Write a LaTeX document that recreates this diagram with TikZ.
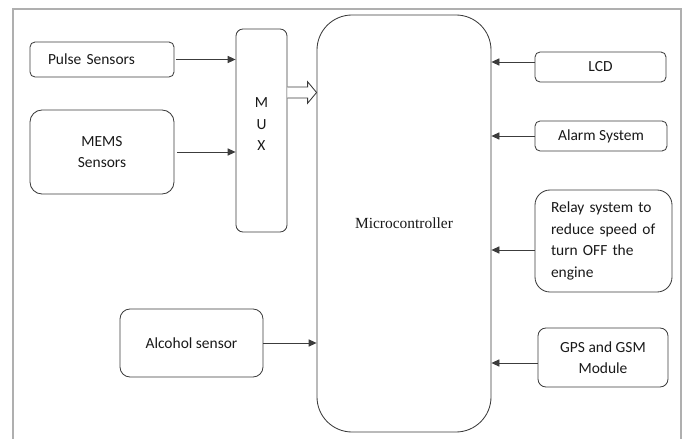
\documentclass[tikz,border=0pt]{standalone}
\usepackage{fontspec}
\setmainfont{Carlito}
\newfontfamily\mcufont{Liberation Serif}
\usetikzlibrary{arrows.meta,positioning,calc}
\definecolor{boxline}{RGB}{60,60,60}
\definecolor{framegray}{RGB}{175,175,175}
\definecolor{txtblack}{RGB}{25,25,25}

\begin{document}
\begin{tikzpicture}[
  every node/.style={font=\fontsize{11}{15.3}\selectfont, text=txtblack},
  blk/.style={draw=boxline, line width=0.6pt, rounded corners=#1,
              align=center, inner sep=2pt},
  blk/.default=3pt,
  arr/.style={-{Triangle[length=0.2cm, width=0.18cm]}, boxline, line width=0.6pt},
  bus/.style={draw=boxline, line width=0.6pt, fill=white},
]
\useasboundingbox (0,0) rectangle (17.15,-10.975);

% Outer frame
\draw[framegray, line width=1pt] (0.325,-10.975) |- (17.025,-0.225) -- (17.025,-10.975);

% Sensors and multiplexer
\node[blk=0.125cm, minimum width=3.6cm, minimum height=0.875cm, text width=2.7cm,
      align=left] (pulse) at (2.55,-1.4875) {Pulse Sensors};
\node[blk=0.3cm, minimum width=3.6cm, minimum height=2.1cm] (mems) at (2.55,-3.8) {MEMS\\Sensors};
\node[blk=0.175cm, minimum width=1.275cm, minimum height=5.075cm] (mux) at (6.5375,-3.2625) {};
\node[align=center] (muxtext) at ([yshift=0.16cm]mux.center) {M\\U\\X};
\node[blk=0.25cm, minimum width=3.575cm, minimum height=1.7cm] (alcohol) at (4.7875,-8.575) {Alcohol sensor};

% Controller
\node[blk=0.875cm, minimum width=4.35cm, minimum height=10.425cm,
      font=\mcufont\fontsize{11}{15.3}\selectfont] (mcu) at (10.1,-5.5875) {Microcontroller};

% Outputs
\node[blk=0.125cm, minimum width=3.275cm, minimum height=0.75cm] (lcd) at (15.0125,-1.675) {LCD};
\node[blk=0.125cm, minimum width=3.3cm, minimum height=0.75cm] (alarm) at (15.025,-3.4) {Alarm System};
\node[blk=0.375cm, minimum width=3.425cm, minimum height=2.55cm, text width=2.625cm,
      align=left] (relay) at (15.0875,-6.025) {Relay system to\\reduce speed of\\turn OFF the\\engine};
\node[blk=0.2cm, minimum width=3.25cm, minimum height=1.475cm] (gps) at (15.075,-8.9375) {GPS and GSM\\Module};

% Arrows
\draw[arr] ([xshift=1pt]pulse.east) -- (pulse -| mux.west);
\draw[arr] ([xshift=2pt]mems.east) -- (mems -| mux.west);
\draw[arr] (alcohol.east) -- (alcohol -| mcu.west);

\coordinate (lcdout) at ([yshift=0.125cm]lcd.west);
\coordinate (relayout) at ([yshift=-0.225cm]relay.west);
\coordinate (gpsout) at ([yshift=-0.1375cm]gps.west);
\draw[arr] (lcdout) -- (lcdout -| mcu.east);
\draw[arr] (alarm.west) -- (alarm -| mcu.east);
\draw[arr] (relayout) -- (relayout -| mcu.east);
\draw[arr] (gpsout) -- (gpsout -| mcu.east);

% Hollow bus arrow MUX -> controller
\coordinate (bus0) at ([yshift=0.95cm]mux.east);
\coordinate (bus1) at (bus0 -| mcu.west);
\draw[bus] ($(bus0)+(0,0.1375)$) -- ($(bus1)+(-0.225,0.1375)$) -- ($(bus1)+(-0.225,0.27)$)
  -- (bus1) -- ($(bus1)+(-0.225,-0.27)$) -- ($(bus1)+(-0.225,-0.1375)$) -- ($(bus0)+(0,-0.1375)$);

\end{tikzpicture}
\end{document}
